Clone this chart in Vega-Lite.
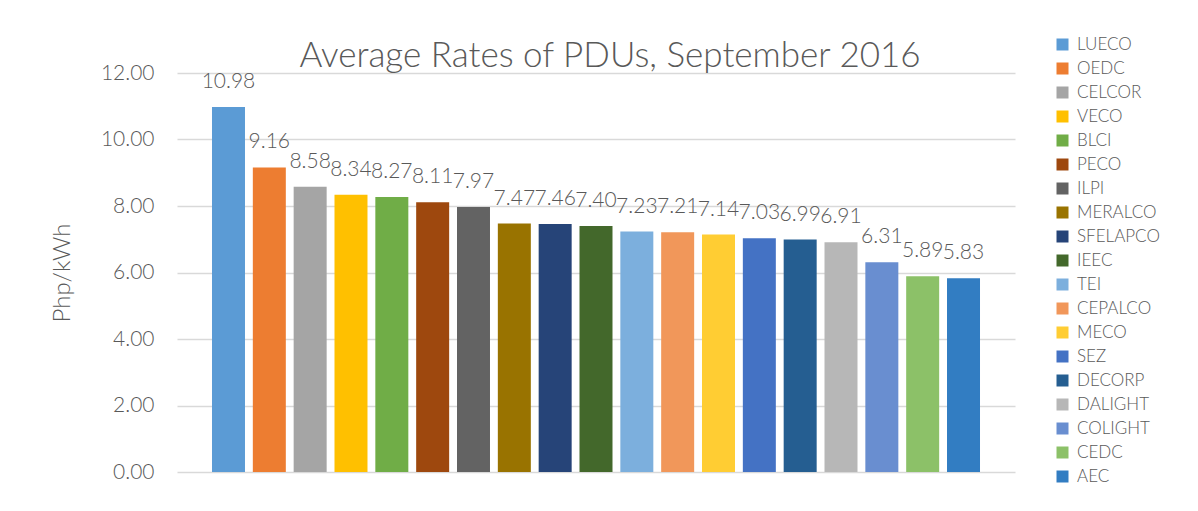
{
  "$schema": "https://vega.github.io/schema/vega-lite/v6.json",
  "width": 838,
  "height": 399,
  "autosize": "none",
  "padding": {"left": 177, "top": 73, "right": 183, "bottom": 39},
  "background": "white",
  "config": {
    "view": {"stroke": null},
    "font": "Lato"
  },
  "title": {
    "text": "Average Rates of PDUs, September 2016",
    "fontSize": 35,
    "fontWeight": 300,
    "font": "Lato",
    "color": "#595959",
    "anchor": "middle",
    "frame": "group",
    "dx": 14,
    "baseline": "alphabetic",
    "offset": -66
  },
  "data": {
    "values": [
      {"pdu": "LUECO", "rate": 10.98},
      {"pdu": "OEDC", "rate": 9.16},
      {"pdu": "CELCOR", "rate": 8.58},
      {"pdu": "VECO", "rate": 8.34},
      {"pdu": "BLCI", "rate": 8.27},
      {"pdu": "PECO", "rate": 8.11},
      {"pdu": "ILPI", "rate": 7.97},
      {"pdu": "MERALCO", "rate": 7.47},
      {"pdu": "SFELAPCO", "rate": 7.46},
      {"pdu": "IEEC", "rate": 7.40},
      {"pdu": "TEI", "rate": 7.23},
      {"pdu": "CEPALCO", "rate": 7.21},
      {"pdu": "MECO", "rate": 7.14},
      {"pdu": "SEZ", "rate": 7.03},
      {"pdu": "DECORP", "rate": 6.99},
      {"pdu": "DALIGHT", "rate": 6.91},
      {"pdu": "COLIGHT", "rate": 6.31},
      {"pdu": "CEDC", "rate": 5.89},
      {"pdu": "AEC", "rate": 5.83}
    ]
  },
  "encoding": {
    "x": {
      "field": "pdu",
      "type": "nominal",
      "sort": null,
      "axis": null,
      "scale": {"paddingInner": 0.192, "paddingOuter": 0.857}
    },
    "y": {
      "field": "rate",
      "type": "quantitative",
      "scale": {"domain": [0, 12], "nice": false},
      "axis": {
        "title": "Php/kWh",
        "values": [0, 2, 4, 6, 8, 10, 12],
        "format": ".2f",
        "grid": true,
        "gridColor": "#d9d9d9",
        "gridWidth": 1.5,
        "domain": false,
        "ticks": false,
        "labelPadding": 23,
        "labelFontSize": 21,
        "labelFont": "Lato",
        "labelFontWeight": 300,
        "labelColor": "#595959",
        "titleFontSize": 24,
        "titleFont": "Lato",
        "titleFontWeight": 300,
        "titleColor": "#595959",
        "titlePadding": 26
      }
    }
  },
  "layer": [
    {
      "mark": {"type": "bar"},
      "encoding": {
        "color": {
          "field": "pdu",
          "type": "nominal",
          "sort": null,
          "scale": {
            "domain": ["LUECO", "OEDC", "CELCOR", "VECO", "BLCI", "PECO", "ILPI", "MERALCO", "SFELAPCO", "IEEC", "TEI", "CEPALCO", "MECO", "SEZ", "DECORP", "DALIGHT", "COLIGHT", "CEDC", "AEC"],
            "range": ["#5B9BD5", "#ED7D31", "#A5A5A5", "#FFC000", "#70AD47", "#9E480E", "#636363", "#997300", "#264478", "#43682B", "#7CAFDD", "#F1975A", "#FFCD33", "#4472C4", "#255E91", "#B7B7B7", "#698ED0", "#8CC168", "#327DC2"]
          },
          "legend": {
            "title": null,
            "orient": "none",
            "legendX": 877,
            "legendY": -37,
            "symbolType": "square",
            "symbolSize": 144,
            "symbolStrokeWidth": 0,
            "labelFontSize": 17,
            "labelFont": "Lato",
            "labelFontWeight": 300,
            "labelColor": "#595959",
            "labelOffset": 6,
            "rowPadding": 6
          }
        }
      }
    },
    {
      "mark": {"type": "text", "baseline": "alphabetic", "dy": -19, "fontSize": 21, "font": "Lato", "fontWeight": 300, "color": "#595959"},
      "encoding": {
        "text": {"field": "rate", "type": "quantitative", "format": ".2f"}
      }
    }
  ]
}
